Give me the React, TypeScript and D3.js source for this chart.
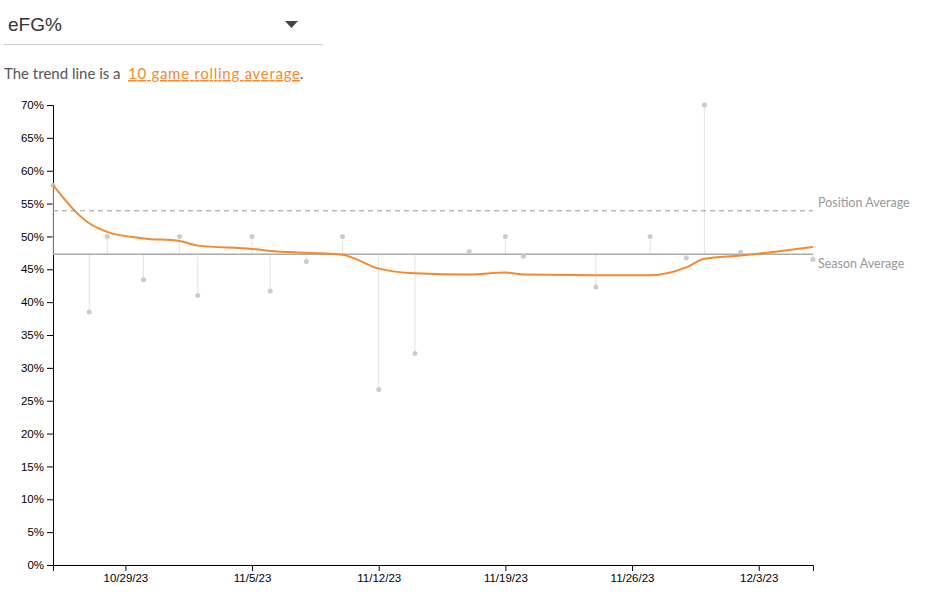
import * as d3 from 'd3'
import React, { useEffect, useRef } from 'react'

// game dates and eFG% per game
const gameDates = [
  '2023-10-25', '2023-10-27', '2023-10-28', '2023-10-30', '2023-11-01', '2023-11-02',
  '2023-11-05', '2023-11-06', '2023-11-08', '2023-11-10', '2023-11-12', '2023-11-14',
  '2023-11-17', '2023-11-19', '2023-11-20', '2023-11-24', '2023-11-27', '2023-11-29',
  '2023-11-30', '2023-12-02', '2023-12-06',
]
const gameEfg = [
  0.578, 0.385, 0.5, 0.434, 0.5, 0.41,
  0.5, 0.417, 0.462, 0.5, 0.267, 0.322,
  0.477, 0.5, 0.47, 0.423, 0.5, 0.467,
  0.7, 0.476, 0.465,
]
// rolling average trend, read at each game
const trendEfg = [
  0.578, 0.52, 0.507, 0.497, 0.493, 0.486,
  0.481, 0.478, 0.475, 0.472, 0.451, 0.444,
  0.442, 0.445, 0.442, 0.441, 0.441, 0.453,
  0.466, 0.471, 0.484,
]
const seasonAverage = 0.473
const positionAverage = 0.539

const width = 936
const height = 595
const margin = { top: 105, right: 123, bottom: 30, left: 53 }

function Chart() {
  const ref = useRef<SVGSVGElement>(null)

  useEffect(() => {
    if (!ref.current) return
    const svg = d3.select(ref.current)
    svg.selectAll('g.chart').remove()

    const parse = d3.timeParse('%Y-%m-%d')
    const data = gameDates.map((d, i) => ({
      date: parse(d) as Date,
      value: gameEfg[i],
      trend: trendEfg[i],
    }))

    const x = d3
      .scaleTime()
      .domain(d3.extent(data, d => d.date) as [Date, Date])
      .range([margin.left, width - margin.right])
    const y = d3
      .scaleLinear()
      .domain([0, 0.7])
      .range([height - margin.bottom, margin.top])

    const g = svg.append('g').attr('class', 'chart')

    // x axis
    g.append('g')
      .attr('transform', `translate(0,${y(0)})`)
      .call(
        d3
          .axisBottom<Date>(x)
          .ticks(d3.timeSunday.every(1))
          .tickFormat(d3.timeFormat('%-m/%-d/%y'))
      )
      .call(a => a.selectAll('text').attr('font-size', 11.5).attr('font-family', 'Liberation Sans, Arial, sans-serif'))

    // y axis
    g.append('g')
      .attr('transform', `translate(${margin.left},0)`)
      .call(d3.axisLeft(y).ticks(14).tickFormat(d3.format('.0%')))
      .call(a => a.selectAll('text').attr('font-size', 11.5).attr('font-family', 'Liberation Sans, Arial, sans-serif'))

    // lollipops from season average
    g.append('g')
      .selectAll('line')
      .data(data)
      .join('line')
      .attr('x1', d => x(d.date))
      .attr('x2', d => x(d.date))
      .attr('y1', y(seasonAverage))
      .attr('y2', d => y(d.value))
      .attr('stroke', '#e3e3e3')
      .attr('stroke-width', 1)

    // averages
    g.append('line')
      .attr('x1', margin.left)
      .attr('x2', width - margin.right)
      .attr('y1', y(positionAverage))
      .attr('y2', y(positionAverage))
      .attr('stroke', '#999')
      .attr('stroke-width', 1)
      .attr('stroke-dasharray', '5,4')
    g.append('line')
      .attr('x1', margin.left)
      .attr('x2', width - margin.right)
      .attr('y1', y(seasonAverage))
      .attr('y2', y(seasonAverage))
      .attr('stroke', '#aaa')
      .attr('stroke-width', 1.5)

    g.append('g')
      .selectAll('circle')
      .data(data)
      .join('circle')
      .attr('cx', d => x(d.date))
      .attr('cy', d => y(d.value))
      .attr('r', 2.5)
      .attr('fill', '#ccc')

    const line = d3
      .line<{ date: Date; trend: number }>()
      .x(d => x(d.date))
      .y(d => y(d.trend))
      .curve(d3.curveMonotoneX)
    g.append('path')
      .datum(data)
      .attr('d', line)
      .attr('fill', 'none')
      .attr('stroke', '#f28a30')
      .attr('stroke-width', 2)

    const labels = [
      { text: 'Position Average', value: positionAverage, dy: -7 },
      { text: 'Season Average', value: seasonAverage, dy: 11 },
    ]
    g.append('g')
      .selectAll('text')
      .data(labels)
      .join('text')
      .attr('x', width - margin.right + 5)
      .attr('y', d => y(d.value) + d.dy)
      .attr('dominant-baseline', 'middle')
      .attr('font-family', 'Lato, sans-serif')
      .attr('font-size', 12.5)
      .attr('fill', '#999')
      .text(d => d.text)
  }, [])

  return (
    <svg ref={ref} width={width} height={height} style={{ position: 'absolute', left: 0, top: 0 }}>
      <text x={8} y={31} fontFamily="Liberation Sans, Arial, sans-serif" fontSize={19} fill="#333">
        eFG%
      </text>
      <path d="M285,21 L298,21 L291.5,28 Z" fill="#444" />
      <line x1={4} x2={323} y1={44.5} y2={44.5} stroke="#ccc" strokeWidth={1} />
      <text x={4} y={79} fontFamily="Lato, sans-serif" fontSize={15} fill="#555">
        The trend line is a
      </text>
      <text
        x={128}
        y={79}
        fontFamily="Lato, sans-serif"
        fontSize={15}
        fill="#f28a30"
        textDecoration="underline"
        textLength={172}
        lengthAdjust="spacing"
      >
        10 game rolling average
      </text>
      <text x={300} y={79} fontFamily="Lato, sans-serif" fontSize={15} fill="#555">
        .
      </text>
    </svg>
  )
}

export default function App() {
  return <Chart />
}
